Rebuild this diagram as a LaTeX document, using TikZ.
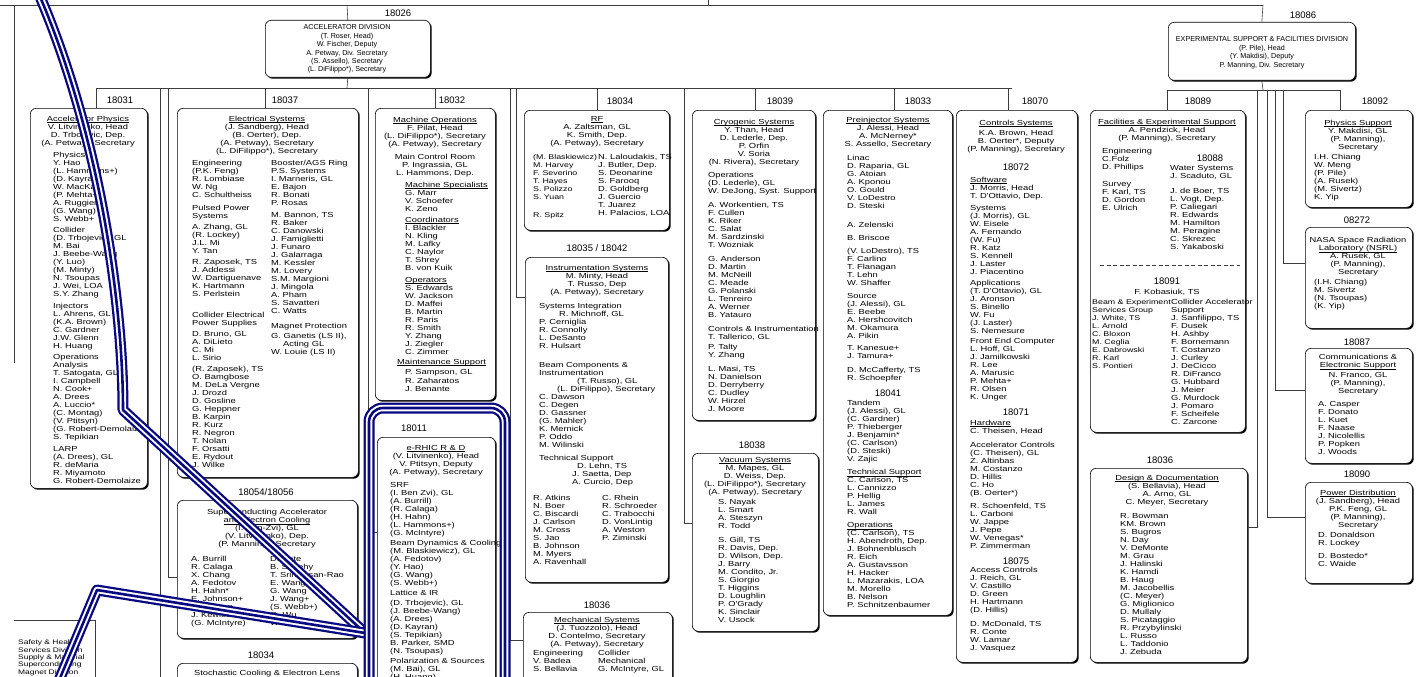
\documentclass[tikz,border=0pt]{standalone}
\usepackage{fontspec}
\usetikzlibrary{shadows}
\newfontfamily\cadfam[FakeStretch=1.28]{Liberation Sans}
\newfontfamily\numfam{Liberation Sans}
\definecolor{pipeblue}{RGB}{8,8,130}
\definecolor{wirec}{RGB}{60,60,60}
\newcommand\ul[1]{\underline{\smash{#1}\vphantom{A}}}
\begin{document}
\begin{tikzpicture}[x=1pt,y=-1pt,
 tx/.style={font=\cadfam\fontsize{7.3}{8}\selectfont, inner sep=0pt, align=left, anchor=north west},
 txs/.style={tx, font=\cadfam\fontsize{6.9}{8}\selectfont},
 hd/.style={font=\cadfam\fontsize{7.3}{8}\selectfont, inner sep=0pt, align=center, anchor=north},
 topt/.style={font=\numfam\fontsize{7.2}{8.3}\selectfont, inner sep=0pt, align=center, anchor=north},
 smallt/.style={font=\cadfam\fontsize{6.6}{7.3}\selectfont, inner sep=0pt, align=left, anchor=north west},
 num/.style={font=\numfam\fontsize{9.5}{10}\selectfont, inner sep=0pt},
 box/.style={draw=black, line width=0.6pt, fill=white, rounded corners=6pt, inner sep=0pt, anchor=north west,
   drop shadow={shadow xshift=1.4pt, shadow yshift=-1.4pt, opacity=1, fill=black}},
 wire/.style={draw=wirec, line width=0.6pt},
 pipe/.style={draw=pipeblue, line width=2.6pt, line join=round,
   preaction={draw=white, line width=6.5pt, line join=round,
     preaction={draw=pipeblue, line width=11pt, line join=round}}},
]
\useasboundingbox (0,0) rectangle (1422,677);
\clip (0,0) rectangle (1422,677);
\fill[white] (0,0) rectangle (1422,677);

% ---------------- boxes ----------------
\node[box, minimum width=165pt, minimum height=57pt] (b18026) at (265,20) {};
\node[box, minimum width=187pt, minimum height=58pt] (b18086) at (1168,22) {};
\node[box, minimum width=117pt, minimum height=380pt] (b18031) at (30,108) {};
\node[box, minimum width=181pt, minimum height=369pt] (b18037) at (177,108) {};
\node[box, minimum width=120pt, minimum height=292pt] (b18032) at (375,108) {};
\node[box, minimum width=118pt, minimum height=260pt] (b18011) at (377,437) {};
\node[box, minimum width=145pt, minimum height=120pt] (b18034rf) at (524,110) {};
\node[box, minimum width=143pt, minimum height=325pt] (b18035) at (525,257) {};
\node[box, minimum width=149pt, minimum height=80pt] (b18036m) at (523,612) {};
\node[box, minimum width=123pt, minimum height=310pt] (b18039) at (692,110) {};
\node[box, minimum width=126pt, minimum height=178pt] (b18038) at (692,453) {};
\node[box, minimum width=129pt, minimum height=505pt] (b18033) at (823,110) {};
\node[box, minimum width=121pt, minimum height=552pt] (b18070) at (956,110) {};
\node[box, minimum width=155pt, minimum height=322pt] (b18089) at (1090,110) {};
\node[box, minimum width=157pt, minimum height=194pt] (b18036r) at (1090,468) {};
\node[box, minimum width=107pt, minimum height=97pt] (b18092) at (1305,110) {};
\node[box, minimum width=107pt, minimum height=101pt] (b08272) at (1305,227) {};
\node[box, minimum width=107pt, minimum height=115pt] (b18087) at (1305,348) {};
\node[box, minimum width=107pt, minimum height=101pt] (b18090) at (1305,482) {};
\node[box, minimum width=180pt, minimum height=138pt] (b18054) at (177,500) {};
\node[box, minimum width=180pt, minimum height=40pt] (b18034s) at (177,663) {};

% ---------------- connectors ----------------
\coordinate (top0) at (0,5);
\coordinate (top1) at (1263,5);
\coordinate (up) at (708,0);
\coordinate (ta) at (708,5);
\coordinate (tb) at (347,5);
\coordinate (tl) at (14,5);
\coordinate (tle) at (14,363);
\draw[wire] (top0) -- (top1);
\draw[wire] (up) -- (ta);
\draw[wire] (tb) -- (b18026.north);
\draw[wire] (top1) -- (b18086.north);
\draw[wire] (tl) -- (tle);

\coordinate (bl) at (96,88);
\coordinate (br) at (1012,88);
\coordinate (bm) at (347,88);
\draw[wire] (b18026.south) -- (bm);
\draw[wire] (bl) -- (br);
\coordinate (j1) at (96,88);
\coordinate (j2) at (160,88);
\coordinate (j3) at (168,88);
\coordinate (j4) at (265,88);
\coordinate (j5) at (368,88);
\coordinate (j6) at (435,88);
\coordinate (j7) at (510,88);
\coordinate (j8) at (516,88);
\coordinate (j9) at (597,88);
\coordinate (j10) at (684,88);
\coordinate (j11) at (755,88);
\coordinate (j12) at (894,88);
\coordinate (j13) at (1008,88);
\draw[wire] (j1) -- (j1 |- b18031.north);
\draw[wire] (j2) |- (b18034s.west);
\draw[wire] (j3) |- (b18054.west |- 0,577);
\draw[wire] (j4) -- (j4 |- b18037.north);
\draw[wire] (j5) |- (b18011.west |- 0,532);
\draw[wire] (j6) -- (j6 |- b18032.north);
\draw[wire] (j7) |- (b18036m.west |- 0,640);
\draw[wire] (j8) |- (b18035.west |- 0,297);
\draw[wire] (j9) -- (j9 |- b18034rf.north);
\draw[wire] (j10) |- (b18038.west |- 0,523);
\draw[wire] (j11) -- (j11 |- b18039.north);
\draw[wire] (j12) -- (j12 |- b18033.north);
\draw[wire] (j13) -- (j13 |- b18070.north);

\coordinate (rm) at (1263,90);
\coordinate (rl) at (1167,90);
\coordinate (rr) at (1340,90);
\draw[wire] (b18086.south) -- (rm);
\draw[wire] (rl) -- (rr);
\coordinate (k3) at (1257,90);
\coordinate (k4) at (1267,90);
\coordinate (k5) at (1275,90);
\coordinate (k6) at (1283,90);
\draw[wire] (rl) -- (rl |- b18089.north);
\draw[wire] (rr) -- (rr |- b18092.north);
\draw[wire] (k3) |- (b18036r.east |- 0,527);
\draw[wire] (k4) |- (b18090.west |- 0,517);
\draw[wire] (k5) |- (b18087.west |- 0,390);
\draw[wire] (k6) |- (b08272.west |- 0,263);

\coordinate (sl) at (14,620);
\coordinate (sr) at (95,620);
\coordinate (sb) at (95,677);
\draw[wire] (sl) -- (sr) -- (sb);
\node[smallt] (other) at (18,640) {Safety \& Health\\Services Division\\Supply \& Material\\Superconducting\\Magnet Division};

% ---------------- numbers ----------------
\node[num] (n18026) at (398,13) {18026};
\node[num] (n18086) at (1303,15) {18086};
\node[num] (n18031) at (120,100) {18031};
\node[num] (n18037) at (285,100) {18037};
\node[num] (n18032) at (452,100) {18032};
\node[num] (n18011) at (414,428) {18011};
\node[num] (n18034rf) at (620,101) {18034};
\node[num] (n18035) at (597,248) {18035 / 18042};
\node[num] (n18036m) at (597,605) {18036};
\node[num] (n18039) at (780,101) {18039};
\node[num] (n18038) at (752,445) {18038};
\node[num] (n18033) at (918,101) {18033};
\node[num] (n18041) at (888,393) {18041};
\node[num] (n18070) at (1035,101) {18070};
\node[num] (n18072) at (1016,167) {18072};
\node[num] (n18071) at (1016,412) {18071};
\node[num] (n18075) at (1016,561) {18075};
\node[num] (n18089) at (1198,101) {18089};
\node[num] (n18088) at (1210,158) {18088};
\node[num] (n18091) at (1167,281) {18091};
\node[num] (n18036r) at (1160,460) {18036};
\node[num] (n18092) at (1375,101) {18092};
\node[num] (n08272) at (1357,220) {08272};
\node[num] (n18087) at (1357,342) {18087};
\node[num] (n18090) at (1357,474) {18090};
\node[num] (n18054) at (266,492) {18054/18056};
\node[num] (n18034s) at (261,655) {18034};

% ---------------- texts ----------------
\node[topt] (t18026) at (347,24) {ACCELERATOR DIVISION\\[1pt](T. Roser, Head)\\W. Fischer, Deputy\\A. Petway, Div. Secretary\\(S. Assello), Secretary\\(L. DiFilippo*), Secretary};
\node[topt] (t18086) at (1262,36) {EXPERIMENTAL SUPPORT \& FACILITIES DIVISION\\[1pt](P. Pile), Head\\(Y. Makdisi), Deputy\\P. Manning, Div. Secretary};

% 18031
\node[hd] (h18031) at (88,116) {\ul{Accelerator Physics}\\V. Litvinenko, Head\\D. Trbojevic, Dep.\\(A. Petway), Secretary};
\node[tx] (l18031) at (53,152) {Physics\\Y. Hao\\(L. Hammons+)\\(D. Kayran)\\W. MacKay\\(P. Mehta+)\\A. Ruggiero\\(G. Wang)\\S. Webb+\\[3.5pt]
Collider\\(D. Trbojevic), GL\\M. Bai\\J. Beebe-Wang\\(Y. Luo)\\(M. Minty)\\N. Tsoupas\\J. Wei, LOA\\S.Y. Zhang\\[3.5pt]
Injectors\\L. Ahrens, GL\\(K.A. Brown)\\C. Gardner\\J.W. Glenn\\H. Huang\\[3.5pt]
Operations\\Analysis\\T. Satogata, GL\\I. Campbell\\N. Cook+\\A. Drees\\A. Luccio*\\(C. Montag)\\(V. Ptitsyn)\\(G. Robert-Demolaize)\\S. Tepikian\\[3.5pt]
LARP\\(A. Drees), GL\\R. deMaria\\R. Miyamoto\\G. Robert-Demolaize};

% 18037
\node[hd] (h18037) at (267,116) {\ul{Electrical Systems}\\(J. Sandberg), Head\\(B. Oerter), Dep.\\(A. Petway), Secretary\\(L. DiFilippo*), Secretary};
\node[tx] (l18037) at (192,160) {Engineering\\(P.K. Feng)\\R. Lombiase\\W. Ng\\C. Schultheiss\\[5pt]
Pulsed Power\\Systems\\[3pt]A. Zhang, GL\\(R. Lockey)\\J.L. Mi\\Y. Tan\\[3pt]
R. Zaposek, TS\\J. Addessi\\W. Dartiguenave\\K. Hartmann\\S. Perlstein\\[13pt]
Collider Electrical\\Power Supplies\\[3pt]D. Bruno, GL\\A. DiLieto\\C. Mi\\L. Sirio\\[3pt]
(R. Zaposek), TS\\O. Bamgbose\\M. DeLa Vergne\\J. Drozd\\D. Gosline\\G. Heppner\\B. Karpin\\R. Kurz\\R. Negron\\T. Nolan\\F. Orsatti\\E. Rydout\\J. Wilke};
\node[tx] (r18037) at (271,160) {Booster/AGS Ring\\P.S. Systems\\I. Marneris, GL\\E. Bajon\\R. Bonati\\P. Rosas\\[4pt]
M. Bannon, TS\\R. Baker\\C. Danowski\\J. Famiglietti\\J. Funaro\\J. Galarraga\\M. Kessler\\M. Lovery\\S.M. Margioni\\J. Mingola\\A. Pham\\S. Savatteri\\C. Watts\\[7pt]
Magnet Protection\\[2pt]G. Ganetis (LS II),\\\hspace*{12pt}Acting GL\\W. Louie (LS II)};

% 18032
\node[hd] (h18032) at (435,117) {\ul{Machine Operations}\\F. Pilat, Head\\(L. DiFilippo*), Secretary\\(A. Petway), Secretary\\[5pt]Main Control Room\\P. Ingrassia, GL\\L. Hammons, Dep.};
\node[tx] (l18032) at (405,182) {\ul{Machine Specialists}\\G. Marr\\V. Schoefer\\K. Zeno\\[3pt]
\ul{Coordinators}\\I. Blackler\\N. Kling\\M. Lafky\\C. Naylor\\T. Shrey\\B. von Kuik\\[4pt]
\ul{Operators}\\S. Edwards\\W. Jackson\\D. Maffei\\B. Martin\\R. Paris\\R. Smith\\Y. Zhang\\J. Ziegler\\C. Zimmer};
\node[tx] (m18032) at (397,359) {\ul{Maintenance Support}\\[2pt]\hspace*{8pt}P. Sampson, GL\\[1.5pt]\hspace*{8pt}R. Zaharatos\\\hspace*{8pt}J. Benante};

% 18011
\node[hd] (h18011) at (436,445) {\ul{e-RHIC R \& D}\\(V. Litvinenko), Head\\V. Ptitsyn, Deputy\\(A. Petway), Secretary};
\node[tx] (l18011) at (390,482) {SRF\\(I. Ben Zvi), GL\\(A. Burrill)\\(R. Calaga)\\(H. Hahn)\\(L. Hammons+)\\(G. McIntyre)\\[2pt]
Beam Dynamics \& Cooling\\(M. Blaskiewicz), GL\\(A. Fedotov)\\(Y. Hao)\\(G. Wang)\\(S. Webb+)\\[2pt]
Lattice \& IR\\[2pt](D. Trbojevic), GL\\(J. Beebe-Wang)\\(A. Drees)\\(D. Kayran)\\(S. Tepikian)\\B. Parker, SMD\\(N. Tsoupas)\\[2pt]
Polarization \& Sources\\(M. Bai), GL\\(H. Huang)};

% 18034 RF
\node[hd] (h18034rf) at (597,116) {\ul{RF}\\A. Zaltsman, GL\\K. Smith, Dep.\\(A. Petway), Secretary};
\node[txs] (l18034rf) at (533,154) {(M. Blaskiewicz)\\M. Harvey\\F. Severino\\T. Hayes\\S. Polizzo\\S. Yuan\\[10pt]R. Spitz};
\node[tx] (r18034rf) at (598,154) {N. Laloudakis, TS\\J. Butler, Dep.\\S. Deonarine\\S. Farooq\\D. Goldberg\\J. Guercio\\T. Juarez\\H. Palacios, LOA};

% 18035/18042
\node[hd] (h18035) at (597,265) {\ul{Instrumentation Systems}\\M. Minty, Head\\T. Russo, Dep\\(A. Petway), Secretary};
\node[tx] (l18035) at (539,303) {Systems Integration\\\hspace*{20pt}R. Michnoff, GL\\P. Cerniglia\\R. Connolly\\L. DeSanto\\R. Hulsart\\[11pt]
Beam Components \&\\Instrumentation\\\hspace*{38pt}(T. Russo), GL\\\hspace*{18pt}(L. DiFilippo), Secretary\\C. Dawson\\C. Degen\\D. Gassner\\(G. Mahler)\\K. Mernick\\P. Oddo\\M. Wilinski\\[5pt]
Technical Support\\\hspace*{38pt}D. Lehn, TS\\\hspace*{33pt}J. Saetta, Dep\\\hspace*{33pt}A. Curcio, Dep};
\node[tx] (a18035) at (533,495) {R. Atkins\\N. Boer\\C. Biscardi\\J. Carlson\\M. Cross\\S. Jao\\B. Johnson\\M. Myers\\A. Ravenhall};
\node[tx] (b18035t) at (602,495) {C. Rhein\\R. Schroeder\\C. Trabocchi\\D. VonLintig\\A. Weston\\P. Ziminski};

% 18036 mechanical
\node[hd] (h18036m) at (597,617) {\ul{Mechanical Systems}\\(J. Tuozzolo), Head\\D. Contelmo, Secretary\\(A. Petway), Secretary};
\node[tx] (l18036m) at (533,650) {Engineering\\V. Badea\\S. Bellavia};
\node[tx] (r18036m) at (598,650) {Collider\\Mechanical\\G. McIntyre, GL};

% 18039
\node[hd] (h18039) at (754,119) {\ul{Cryogenic Systems}\\Y. Than, Head\\D. Lederle, Dep.\\P. Orfin\\V. Soria\\(N. Rivera), Secretary};
\node[tx] (l18039) at (708,172) {Operations\\(D. Lederle), GL\\W. DeJong, Syst. Support\\[6pt]
A. Workentien, TS\\F. Cullen\\K. Riker\\C. Salat\\M. Sardzinski\\T. Wozniak\\[6pt]
G. Anderson\\D. Martin\\M. McNeill\\C. Meade\\G. Polanski\\L. Tenreiro\\A. Werner\\B. Yatauro\\[6pt]
Controls \& Instrumentation\\T. Tallerico, GL\\[2pt]P. Talty\\Y. Zhang\\[6pt]
L. Masi, TS\\N. Danielson\\D. Derryberry\\C. Dudley\\W. Hirzel\\J. Moore};

% 18038
\node[hd] (h18038) at (755,457) {\ul{Vacuum Systems}\\M. Mapes, GL\\D. Weiss, Dep.\\(L. DiFilippo*), Secretary\\(A. Petway), Secretary};
\node[tx] (l18038) at (718,499) {S. Nayak\\L. Smart\\A. Steszyn\\R. Todd\\[6pt]
S. Gill, TS\\R. Davis, Dep.\\D. Wilson, Dep.\\J. Barry\\M. Condito, Jr.\\S. Giorgio\\T. Higgins\\D. Loughlin\\P. O'Grady\\K. Sinclair\\V. Usock};

% 18033
\node[hd] (h18033) at (888,117) {\ul{Preinjector Systems}\\J. Alessi, Head\\A. McNerney*\\S. Assello, Secretary};
\node[tx] (l18033) at (847,155) {Linac\\D. Raparia, GL\\G. Atoian\\A. Kponou\\O. Gould\\V. LoDestro\\D. Steski\\[11pt]
A. Zelenski\\[5pt]B. Briscoe\\[5pt]
(V. LoDestro), TS\\F. Carlino\\T. Flanagan\\T. Lehn\\W. Shaffer\\[5pt]
Source\\(J. Alessi), GL\\E. Beebe\\A. Hershcovitch\\M. Okamura\\A. Pikin\\[4pt]
T. Kanesue+\\J. Tamura+\\[6pt]
D. McCafferty, TS\\R. Schoepfer};
\node[tx] (m18033) at (847,400) {Tandem\\(J. Alessi), GL\\(C. Gardner)\\P. Thieberger\\J. Benjamin*\\(C. Carlson)\\(D. Steski)\\V. Zajic\\[5pt]
\ul{Technical Support}\\C. Carlson, TS\\L. Cannizzo\\P. Hellig\\L. James\\R. Wall\\[5pt]
\ul{Operations}\\(C. Carlson), TS\\H. Abendroth, Dep.\\J. Bohnenblusch\\R. Eich\\A. Gustavsson\\H. Hacker\\L. Mazarakis, LOA\\M. Morello\\B. Nelson\\P. Schnitzenbaumer};

% 18070
\node[hd] (h18070) at (1016,120) {\ul{Controls Systems}\\[2pt]K.A. Brown, Head\\B. Oerter*, Deputy\\(P. Manning), Secretary};
\node[tx] (l18072) at (970,177) {\ul{Software}\\J. Morris, Head\\T. D'Ottavio, Dep.\\[4pt]
Systems\\(J. Morris), GL\\W. Eisele\\A. Fernando\\(W. Fu)\\R. Katz\\S. Kennell\\J. Laster\\J. Piacentino\\[3pt]
Applications\\(T. D'Ottavio), GL\\J. Aronson\\S. Binello\\W. Fu\\(J. Laster)\\S. Nemesure\\[2pt]
Front End Computer\\L. Hoff, GL\\J. Jamilkowski\\R. Lee\\A. Marusic\\P. Mehta+\\R. Olsen\\K. Unger};
\node[tx] (l18071) at (970,420) {\ul{Hardware}\\C. Theisen, Head\\[6pt]
Accelerator Controls\\(C. Theisen), GL\\Z. Altinbas\\M. Costanzo\\D. Hillis\\C. Ho\\(B. Oerter*)\\[5pt]
R. Schoenfeld, TS\\L. Carboni\\W. Jappe\\J. Pepe\\W. Venegas*\\P. Zimmerman};
\node[tx] (l18075) at (970,567) {Access Controls\\J. Reich, GL\\V. Castillo\\D. Green\\H. Hartmann\\(D. Hillis)\\[6pt]
D. McDonald, TS\\R. Conte\\W. Lamar\\J. Vasquez};

% 18089
\node[hd] (h18089) at (1167,119) {\ul{Facilities \& Experimental Support}\\A. Pendzick, Head\\(P. Manning), Secretary};
\node[tx] (l18089) at (1102,148) {Engineering\\C.Folz\\D. Phillips\\[9pt]Survey\\F. Karl, TS\\D. Gordon\\E. Ulrich};
\node[tx] (l18088) at (1170,165) {Water Systems\\J. Scaduto, GL\\[7pt]
J. de Boer, TS\\L. Vogt, Dep.\\P. Caliegari\\R. Edwards\\M. Hamilton\\M. Peragine\\C. Skrezec\\S. Yakaboski};
\coordinate (dl) at (1100,265);
\coordinate (dr) at (1240,265);
\draw[wire, dash pattern=on 4pt off 2.5pt] (dl) -- (dr);
\node[hd] (h18091) at (1167,289) {F. Kobasiuk, TS};
\node[txs] (a18091) at (1092,299) {Beam \& Experiment\\Services Group\\J. White, TS\\L. Arnold\\C. Bloxon\\M. Ceglia\\E. Dabrowski\\R. Karl\\S. Pontieri};
\node[tx] (b18091) at (1171,299) {Collider Accelerator\\Support\\J. Sanfilippo, TS\\F. Dusek\\H. Ashby\\F. Bornemann\\T. Costanzo\\J. Curley\\J. DeCicco\\R. DiFranco\\G. Hubbard\\J. Meier\\G. Murdock\\J. Pomaro\\F. Scheifele\\C. Zarcone};

% 18036 right
\node[hd] (h18036r) at (1167,475) {\ul{Design \& Documentation}\\(S. Bellavia), Head\\A. Arno, GL\\C. Meyer, Secretary};
\node[tx] (l18036r) at (1120,513) {R. Bowman\\KM. Brown\\S. Bugros\\N. Day\\V. DeMonte\\M. Grau\\J. Halinski\\K. Hamdi\\B. Haug\\M. Jacobellis\\(C. Meyer)\\G. Miglionico\\D. Mullaly\\S. Picataggio\\R. Przybylinski\\L. Russo\\L. Taddonio\\J. Zebuda};

% right column
\node[hd] (h18092) at (1358,120) {\ul{Physics Support}\\Y. Makdisi, GL\\(P. Manning),\\Secretary};
\node[tx] (l18092) at (1314,154) {I.H. Chiang\\W. Meng\\(P. Pile)\\(A. Rusek)\\(M. Sivertz)\\K. Yip};
\node[hd] (h08272) at (1358,237) {NASA Space Radiation\\\ul{Laboratory (NSRL)}\\A. Rusek, GL\\(P. Manning),\\Secretary};
\node[tx] (l08272) at (1314,279) {(I.H. Chiang)\\M. Sivertz\\(N. Tsoupas)\\(K. Yip)};
\node[hd] (h18087) at (1358,354) {Communications \&\\\ul{Electronic Support}\\[2pt]N. Franco, GL\\(P. Manning),\\Secretary};
\node[tx] (l18087) at (1318,401) {A. Casper\\F. Donato\\L. Kuet\\F. Naase\\J. Nicolellis\\P. Popken\\J. Woods};
\node[hd] (h18090) at (1358,490) {\ul{Power Distribution}\\(J. Sandberg), Head\\P.K. Feng, GL\\(P. Manning),\\Secretary};
\node[tx] (l18090) at (1318,532) {D. Donaldson\\R. Lockey\\[5pt]D. Bostedo*\\C. Waide};

% 18054/18056
\node[hd] (h18054) at (267,509) {Superconducting Accelerator\\\ul{and Electron Cooling}\\(I. Ben-Zvi), GL\\(V. Litvinenko), Dep.\\(P. Manning), Secretary};
\node[tx] (l18054) at (191,556) {A. Burrill\\R. Calaga\\X. Chang\\A. Fedotov\\H. Hahn*\\E. Johnson+\\D. Kayran\\J. Kewisch\\(G. McIntyre)};
\node[tx] (r18054) at (270,556) {D. Pate\\B. Sheehy\\T. Srinivasan-Rao\\E. Wang\\G. Wang\\J. Wang+\\(S. Webb+)\\Q. Wu\\W. Xu};

% 18034 stochastic
\node[hd] (h18034s) at (267,670) {Stochastic Cooling \& Electron Lens};

% ---------------- blue highlight ----------------
\coordinate (pa0) at (38,-8);
\coordinate (pa1) at (123,410);
\coordinate (pp) at (365,633);
\coordinate (pb0) at (55,690);
\coordinate (pb1) at (97,590);
\draw[pipe] (pa0) .. controls (98,130) and (123,300) .. (pa1) -- (pp);
\draw[pipe] (pb0) -- (pb1) -- (pp);
\draw[pipe, rounded corners=14pt] (369,700) -- (369,408) -- (505,408) -- (505,700);
\end{tikzpicture}
\end{document}
